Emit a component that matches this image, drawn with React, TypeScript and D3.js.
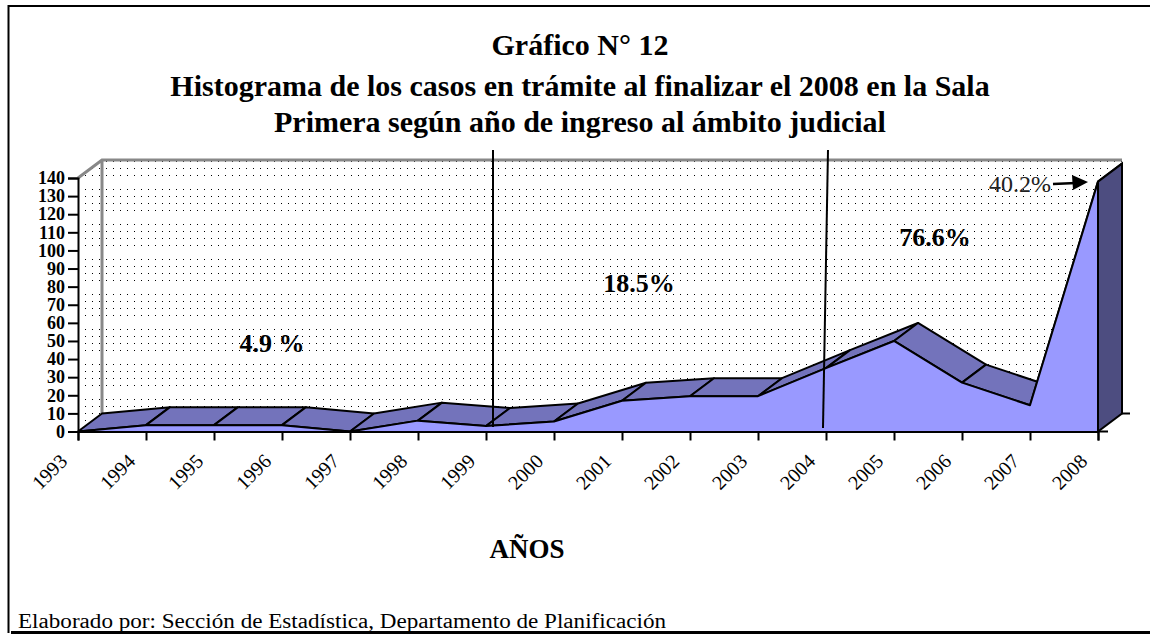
import React, { useEffect, useRef } from 'react';
import * as d3 from 'd3';

const years = [1993, 1994, 1995, 1996, 1997, 1998, 1999, 2000, 2001, 2002, 2003, 2004, 2005, 2006, 2007, 2008];
const casos = [0, 3.5, 3.5, 3.5, 0, 6, 3, 5.5, 17, 19.5, 19.5, 35, 50, 27, 14.5, 138];
const yTicks = d3.range(0, 150, 10);
const titleLines = [
  'Gráfico N° 12',
  'Histograma de los casos en trámite al finalizar el 2008 en la Sala',
  'Primera según año de ingreso al ámbito judicial',
];
const periodLabels = [
  { text: '4.9 %', x: 272, y: 352 },
  { text: '18.5%', x: 639, y: 292 },
  { text: '76.6%', x: 935, y: 246 },
];
// filas de puntos del fondo dentro de un ciclo de 35 px (una fila falta)
const dotRows = [0, 14, 21, 28];
const dotCols = [1, 8, 15, 22, 29];

const serif = '"Liberation Serif", "Times New Roman", serif';
const depthX = 24;
const depthY = -18;

const x = d3.scaleLinear().domain([1993, 2008]).range([78, 1098]);
const y = d3.scaleLinear().domain([0, 140]).range([431.5, 178]);

export default function App() {
  const xAxisRef = useRef<SVGGElement>(null);
  const yAxisRef = useRef<SVGGElement>(null);

  useEffect(() => {
    const yAxis = d3.axisLeft(y).tickValues(yTicks).tickSize(10).tickPadding(3).tickFormat(d3.format('d'));
    const yG = d3.select(yAxisRef.current).call(yAxis as any);
    yG.selectAll('path,line').attr('stroke', '#000').attr('stroke-width', 2);
    yG.selectAll('text')
      .attr('font-family', serif)
      .attr('font-size', 18)
      .attr('font-weight', 'bold')
      .attr('fill', '#000');

    const xAxis = d3.axisBottom(x).tickValues(years).tickSize(9).tickFormat(d3.format('d'));
    const xG = d3.select(xAxisRef.current).call(xAxis as any);
    xG.selectAll('path,line').attr('stroke', '#000').attr('stroke-width', 2);
    xG.selectAll('text')
      .attr('font-family', serif)
      .attr('font-size', 20)
      .attr('fill', '#000')
      .attr('text-anchor', 'end')
      .attr('y', 0)
      .attr('dy', 0)
      .attr('transform', 'translate(-10,31) rotate(-45)');
  }, []);

  const line = d3.line<number>().x((_, i) => x(years[i])).y(d => y(d));
  const area = d3.area<number>().x((_, i) => x(years[i])).y0(y(0)).y1(d => y(d));

  const x0 = x(1993);
  const x1 = x(2008);
  const yTop = y(140);
  const yBase = y(0);

  return (
    <svg
      width={1150}
      height={634}
      style={{ position: 'absolute', left: 0, top: 0, display: 'block', background: '#fff' }}
    >
      <defs>
        <pattern id="dots" width={35} height={35} patternUnits="userSpaceOnUse">
          {dotRows.map(r =>
            dotCols.map(c => <rect key={`${r}-${c}`} x={c} y={r} width={1} height={1} fill="#000" />)
          )}
        </pattern>
      </defs>

      {/* marco */}
      <path d="M8.5,633 V6 H1150" fill="none" stroke="#000" strokeWidth={2} />
      <rect x={11} y={631} width={1139} height={3} fill="#000" />

      {/* paredes */}
      <path
        d={`M${x0},${yTop} L${x0 + depthX},${yTop + depthY} H${x1 + depthX} V${yBase + depthY} H${x0 + depthX} L${x0},${yBase} Z`}
        fill="url(#dots)"
      />
      <path
        d={`M${x0},${yTop} L${x0 + depthX},${yTop + depthY} H${x1 + depthX} M${x0 + depthX},${yTop + depthY} V${yBase + depthY}`}
        fill="none"
        stroke="#888"
        strokeWidth={3}
      />

      {/* cinta superior */}
      {casos.slice(0, -1).map((d, i) => {
        const a = [x(years[i]), y(d)];
        const b = [x(years[i + 1]), y(casos[i + 1])];
        return (
          <path
            key={years[i]}
            d={`M${a[0]},${a[1]} L${b[0]},${b[1]} L${b[0] + depthX},${b[1] + depthY} L${a[0] + depthX},${a[1] + depthY} Z`}
            fill="#7373bb"
            stroke="#000"
            strokeWidth={2}
            strokeLinejoin="round"
          />
        );
      })}

      {/* cara lateral */}
      <path
        d={`M${x1},${y(138)} L${x1 + depthX},${y(138) + depthY} V${yBase + depthY} L${x1},${yBase} Z`}
        fill="#4d4d80"
        stroke="#000"
        strokeWidth={2}
      />
      <path d={area(casos) ?? ''} fill="#9999ff" />
      <path d={line(casos) ?? ''} fill="none" stroke="#000" strokeWidth={2} strokeLinejoin="round" />
      <path d={`M${x1},${y(138)} V${yBase}`} stroke="#000" strokeWidth={2} />

      <g ref={yAxisRef} transform={`translate(${x0},0)`} />
      <g ref={xAxisRef} transform={`translate(0,${yBase})`} />
      <path
        d={`M${x1},${yBase} h10 M${x1 + depthX},${yBase + depthY} h8`}
        stroke="#000"
        strokeWidth={2}
        fill="none"
      />

      {/* divisiones */}
      <path d="M493,150 V427" stroke="#000" strokeWidth={2} />
      <path d="M828,150 L823,428" stroke="#000" strokeWidth={2} />

      {titleLines.map((t, i) => (
        <text
          key={t}
          x={580}
          y={[55, 96, 132][i]}
          textAnchor="middle"
          fontFamily={serif}
          fontSize={30}
          fontWeight="bold"
          fill="#000"
        >
          {t}
        </text>
      ))}

      {periodLabels.map(d => (
        <text
          key={d.text}
          x={d.x}
          y={d.y}
          textAnchor="middle"
          fontFamily={serif}
          fontSize={26}
          fontWeight="bold"
          fill="#000"
        >
          {d.text}
        </text>
      ))}

      <text x={989} y={192} fontFamily={serif} fontSize={24} fill="#222">
        40.2%
      </text>
      <path d="M1053,184 L1076,183" stroke="#000" strokeWidth={2.5} />
      <path d="M1072,175 L1088,182 L1073,190 Z" fill="#000" />

      <text x={527} y={558} textAnchor="middle" fontFamily={serif} fontSize={27} fontWeight="bold" fill="#000">
        AÑOS
      </text>
      <text
        x={18}
        y={628}
        fontFamily={serif}
        fontSize={20}
        fill="#000"
        textLength={648}
        lengthAdjust="spacingAndGlyphs"
      >
        Elaborado por: Sección de Estadística, Departamento de Planificación
      </text>
    </svg>
  );
}
